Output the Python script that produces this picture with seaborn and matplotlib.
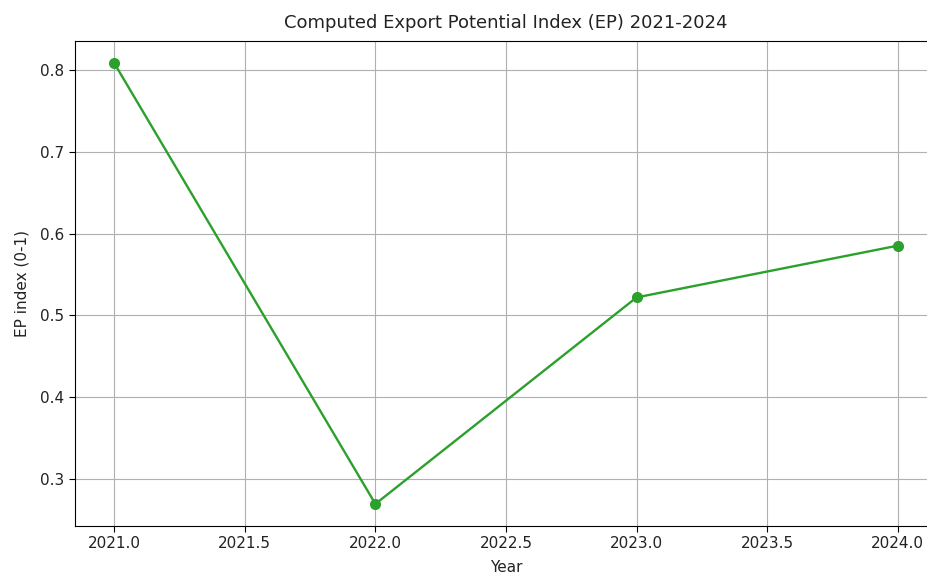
import matplotlib
matplotlib.use("Agg")
import matplotlib.pyplot as plt
import seaborn as sns
import pandas as pd

years = [2021, 2022, 2023, 2024]
ep_index = [0.8086, 0.2694, 0.522, 0.5853]

df = pd.DataFrame({"Year": years, "EP": ep_index})

fig = plt.figure(figsize=(9.28, 5.76), dpi=100)
ax = fig.add_axes([75 / 928, 1 - 526 / 576, (937 - 75) / 928, (526 - 41) / 576])
sns.lineplot(data=df, x="Year", y="EP", marker="o", color="#2ca02c",
             markersize=8, markeredgewidth=0, linewidth=1.7, ax=ax)
ax.set_title("Computed Export Potential Index (EP) 2021-2024", fontsize=13,
             color="#222222", pad=9)
ax.set_xlabel("Year", fontsize=11, color="#222222", labelpad=6)
ax.set_ylabel("EP index (0-1)", fontsize=11, color="#222222", labelpad=8)
ax.tick_params(labelsize=11, labelcolor="#222222", length=4)
ax.grid(True)
plt.savefig("out.png", dpi=100)
